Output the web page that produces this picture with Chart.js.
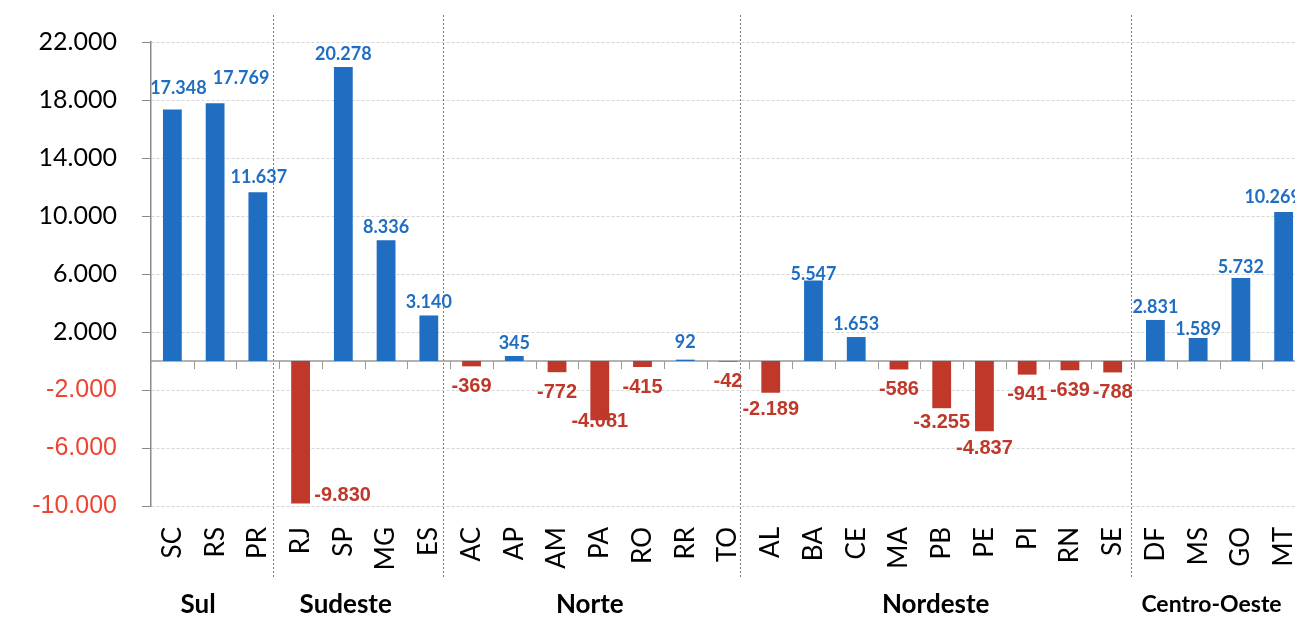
<!DOCTYPE html>
<html><head><meta charset="utf-8">
<script src="https://cdn.jsdelivr.net/npm/chart.js@4"></script>
<style>html,body{margin:0;padding:0;overflow:hidden;background:#fff}#wrap{width:1305px;height:619px}</style>
</head><body><div id="wrap"><canvas id="c" width="1305" height="619"></canvas></div>
<script>
const states = ['SC','RS','PR','RJ','SP','MG','ES','AC','AP','AM','PA','RO','RR','TO','AL','BA','CE','MA','PB','PE','PI','RN','SE','DF','MS','GO','MT'];
const saldo = [17348,17769,11637,-9830,20278,8336,3140,-369,345,-772,-4081,-415,92,-42,-2189,5547,1653,-586,-3255,-4837,-941,-639,-788,2831,1589,5732,10269];
const regions = ['Sul','Sudeste','Norte','Nordeste','Centro-Oeste'];
const regionSizes = [3,4,7,9,4];
const yTicks = [-10000,-6000,-2000,2000,6000,10000,14000,18000,22000];

// style nudges (pixels)
const labelNudge = {SC:[6,-8],RS:[26,-12],PR:[1,-2],RJ:[42,-28],PA:[0,-19],BA:[0,7],GO:[0,2],MS:[0,4],MT:[-11,-2],RR:[0,-4],PB:[0,-6],AL:[0,-3],PE:[0,-3]};
const regionNudge = [-17,-19,-10,-6,-8];
const separatorNudge = [-6,-7,-9,-3];

const BLUE='#1F6EC1', RED='#C0382A', TICKRED='#EE4433';
function fmt(v){const s=Math.abs(v).toString().replace(/\B(?=(\d{3})+(?!\d))/g,'.');return (v<0?'-':'')+s;}

const decor = {
  id:'decor',
  beforeDatasetsDraw(chart){
    const {ctx, chartArea:a, scales:{x,y}} = chart;
    const y0 = y.getPixelForValue(0);
    const n = states.length;
    const bound = i => i===0 ? a.left : (i===n ? a.right : (x.getPixelForValue(i-1)+x.getPixelForValue(i))/2);
    ctx.save();
    ctx.strokeStyle='#7a7a7a'; ctx.lineWidth=1; ctx.setLineDash([2,2]);
    let c=0;
    for(let r=0;r<regionSizes.length-1;r++){c+=regionSizes[r];const xx=Math.round(bound(c)+separatorNudge[r])+0.5;ctx.beginPath();ctx.moveTo(xx,15);ctx.lineTo(xx,578);ctx.stroke();}
    ctx.setLineDash([]);
    ctx.strokeStyle='#9a9a9a'; ctx.lineWidth=1.5;
    ctx.beginPath();ctx.moveTo(a.left,y0);ctx.lineTo(a.right,y0);ctx.stroke();
    ctx.lineWidth=1;
    for(let i=1;i<=n;i++){const xx=Math.round(bound(i))+0.5;ctx.beginPath();ctx.moveTo(xx,y0);ctx.lineTo(xx,y0+8);ctx.stroke();}
    ctx.restore();
  },
  afterDatasetsDraw(chart){
    const {ctx, scales:{x}} = chart;
    const meta = chart.getDatasetMeta(0);
    ctx.save();
    ctx.textAlign='center'; ctx.textBaseline='middle';
    meta.data.forEach((bar,i)=>{
      const v=saldo[i]; const nd=labelNudge[states[i]]||[0,0];
      if(v>=0){ctx.fillStyle=BLUE;ctx.font='bold 18px Lato';ctx.fillText(fmt(v),bar.x+nd[0],bar.y-13+nd[1]);}
      else{ctx.fillStyle=RED;ctx.font='bold 20px "Liberation Sans"';ctx.fillText(fmt(v),bar.x+nd[0],bar.y+20+nd[1]);}
    });
    const n=states.length;
    const bound = i => i===0 ? chart.chartArea.left : (i===n ? chart.chartArea.right : (x.getPixelForValue(i-1)+x.getPixelForValue(i))/2);
    ctx.fillStyle='#000';
    let c=0;
    regions.forEach((r,k)=>{
      const cx=(bound(c)+bound(c+regionSizes[k]))/2+regionNudge[k];
      ctx.font = k===4 ? 'bold 23px Lato' : 'bold 26px Lato';
      ctx.fillText(r,cx,605);
      c+=regionSizes[k];
    });
    ctx.restore();
  }
};

new Chart(document.getElementById('c'),{
  type:'bar',
  data:{labels:states,datasets:[{data:saldo,backgroundColor:saldo.map(v=>v>=0?BLUE:RED),barPercentage:0.44,categoryPercentage:1,borderWidth:0}]},
  options:{
    responsive:false,animation:false,devicePixelRatio:1,
    layout:{padding:{top:42,left:0,right:0,bottom:0}},
    plugins:{legend:{display:false},tooltip:{enabled:false},title:{display:false}},
    scales:{
      x:{type:'category',offset:true,grid:{display:false,drawTicks:false},border:{display:false},
        ticks:{autoSkip:false,maxRotation:90,minRotation:90,padding:21,color:'#000',font:{family:'Lato',size:26}},
        afterFit(s){s.height=113;s.paddingLeft=0;s.paddingRight=0;}},
      y:{min:-10000,max:22000,
        afterBuildTicks(s){s.ticks=yTicks.map(v=>({value:v}));},
        grid:{color:'#d6d6d6',lineWidth:1,tickLength:9,tickColor:'#8a8a8a',tickBorderDash:[]},
        border:{display:true,color:'#8a8a8a',width:1.5,dash:[3,2]},
        ticks:{padding:25,callback:v=>fmt(v),
          color:c=>c.tick&&c.tick.value<0?TICKRED:'#000',
          font:c=>c.tick&&c.tick.value<0?{family:'Liberation Sans',size:25}:{family:'Lato',size:25}},
        afterFit(s){s.width=151;s.paddingTop=0;s.paddingBottom=0;}}
    }
  },
  plugins:[decor]
});
</script></body></html>
